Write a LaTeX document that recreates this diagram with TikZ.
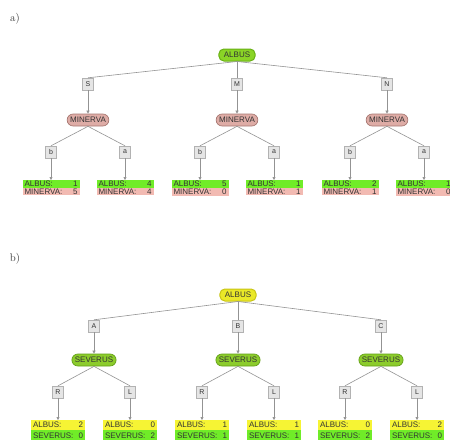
\documentclass[tikz,border=0pt]{standalone}
\usepackage{fontspec}
\setsansfont{Liberation Sans}
\usetikzlibrary{arrows.meta,shapes.multipart}

\definecolor{albusgreen}{RGB}{138,212,38}
\definecolor{albusdark}{RGB}{104,176,20}
\definecolor{albusyellow}{RGB}{234,232,40}
\definecolor{yellowdark}{RGB}{200,196,20}
\definecolor{minfill}{RGB}{222,172,166}
\definecolor{mindark}{RGB}{168,120,114}
\definecolor{sevfill}{RGB}{140,204,44}
\definecolor{sevdark}{RGB}{100,160,24}
\definecolor{leafgreen}{RGB}{112,236,40}
\definecolor{leafpink}{RGB}{242,186,178}
\definecolor{leafyellow}{RGB}{246,244,52}

\begin{document}
\begin{tikzpicture}[x=1pt,y=-1pt,
        every node/.style={font=\sffamily\fontsize{8}{9}\selectfont,text=black!80},
        edge/.style={draw=gray!85,line width=0.6pt},
        arr/.style={edge,-{Triangle[length=3pt,width=3pt]}},
        keybox/.style={draw=gray!60,fill=gray!20,minimum width=11pt,minimum height=12pt,inner sep=1pt,font=\sffamily\fontsize{7}{8}\selectfont},
        rootnode/.style={rounded corners=5pt,line width=1pt,minimum height=12pt,inner xsep=5pt,inner ysep=1pt},
        player/.style={rounded corners=6pt,line width=0.7pt,minimum height=12pt,inner xsep=3pt,inner ysep=1pt},
        leaf/.style={rectangle split,rectangle split parts=2,text width=#1,inner xsep=2pt,inner ysep=0.8pt,anchor=north}]
    \useasboundingbox (0,0) rectangle (450,445);
    \clip (0,0) rectangle (450,445);

    % a) ALBUS over MINERVA
    \node[font=\rmfamily\fontsize{11}{12}\selectfont] (labA) at (15,19) {a)};
    \node[rootnode,fill=albusgreen,draw=albusdark] (albusA) at (237,55) {ALBUS};
    \foreach \k/\x/\ba/\bm/\aa/\am in {S/88/1/5/4/4, M/237/5/0/1/1, N/387/2/1/1/0} {
        \node[keybox] (key\k) at (\x,84) {\k};
        \draw[edge] (albusA.south) -- (key\k.north);
        \node[player,draw=mindark,fill=minfill] (min\k) at (\x,120) {MINERVA};
        \draw[arr] (key\k.south) -- (min\k.north);
        \node[keybox] (b\k) at (\x-37,152) {b};
        \node[keybox] (a\k) at (\x+37,152) {a};
        \draw[edge] (min\k.south) -- (b\k.north);
        \draw[edge] (min\k.south) -- (a\k.north);
        \node[leaf=53pt,rectangle split part fill={leafgreen,leafpink}] (leafb\k) at (\x-37,180)
            {ALBUS:\hfill\ba\nodepart{two}MINERVA:\hfill\bm};
        \node[leaf=53pt,rectangle split part fill={leafgreen,leafpink}] (leafa\k) at (\x+37,180)
            {ALBUS:\hfill\aa\nodepart{two}MINERVA:\hfill\am};
        \draw[arr] (b\k.south) -- (leafb\k.north);
        \draw[arr] (a\k.south) -- (leafa\k.north);
    }

    % b) ALBUS over SEVERUS
    \node[font=\rmfamily\fontsize{11}{12}\selectfont] (labB) at (15,259) {b)};
    \node[rootnode,fill=albusyellow,draw=yellowdark] (albusB) at (238,295) {ALBUS};
    \foreach \k/\x/\ra/\rs/\la/\ls in {A/94/2/0/0/2, B/238/1/1/1/1, C/381/0/2/2/0} {
        \node[keybox] (key\k) at (\x,326) {\k};
        \draw[edge] (albusB.south) -- (key\k.north);
        \node[player,draw=sevdark,fill=sevfill] (sev\k) at (\x,360) {SEVERUS};
        \draw[arr] (key\k.south) -- (sev\k.north);
        \node[keybox] (r\k) at (\x-36,392) {R};
        \node[keybox] (l\k) at (\x+36,392) {L};
        \draw[edge] (sev\k.south) -- (r\k.north);
        \draw[edge] (sev\k.south) -- (l\k.north);
        \node[leaf=50pt,inner ysep=2pt,rectangle split part fill={leafyellow,leafgreen}] (leafr\k) at (\x-36,420)
            {ALBUS:\hfill\ra\nodepart{two}SEVERUS:\hfill\rs};
        \node[leaf=50pt,inner ysep=2pt,rectangle split part fill={leafyellow,leafgreen}] (leafl\k) at (\x+36,420)
            {ALBUS:\hfill\la\nodepart{two}SEVERUS:\hfill\ls};
        \draw[arr] (r\k.south) -- (leafr\k.north);
        \draw[arr] (l\k.south) -- (leafl\k.north);
    }
\end{tikzpicture}
\end{document}
